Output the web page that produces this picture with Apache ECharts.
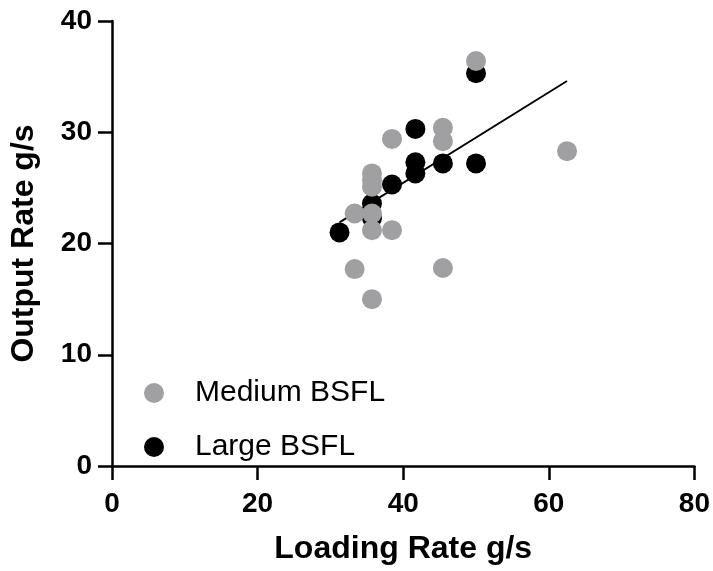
<!DOCTYPE html>
<html>
<head>
<meta charset="utf-8">
<script src="https://cdn.jsdelivr.net/npm/echarts@6/dist/echarts.min.js"></script>
<style>
  html, body { margin: 0; padding: 0; background: #fff; }
  #chart { width: 713px; height: 571px; }
</style>
</head>
<body>
<div id="chart"></div>
<script>
// loading rates (g/s) and output rates (g/s)
var mediumX = [50, 45.45, 45.45, 38.46, 62.5, 35.71, 35.71, 35.71, 33.33, 35.71, 35.71, 38.46, 33.33, 45.45, 35.71]
var mediumY = [36.4, 30.4, 29.2, 29.4, 28.3, 26.3, 25.7, 25.1, 22.7, 22.7, 21.2, 21.2, 17.7, 17.8, 15.0]

var largeX = [50, 41.67, 41.67, 41.67, 45.45, 50, 38.46, 35.71, 35.71, 31.25]
var largeY = [35.3, 30.3, 27.3, 26.3, 27.2, 27.2, 25.3, 23.6, 22.3, 21.0]

// fitted line ends
var fitX = [31.25, 62.5]
var fitY = [21.9, 34.6]

var xTicks = [0, 20, 40, 60, 80]
var yTicks = [0, 10, 20, 30, 40]

function pairs(xs, ys) {
    var out = []
    for (var i = 0; i < xs.length; i++) {
        out.push([xs[i], ys[i]])
    }
    return out
}

var font = "'Liberation Sans', Arial, sans-serif"
var myChart = echarts.init(document.getElementById('chart'))

var option = {
    animation: false,
    backgroundColor: '#fff',
    grid: {
        left: 109,
        right: 15,
        top: 21,
        bottom: 105
    },
    legend: {
        orient: 'vertical',
        left: 139,
        top: 373,
        itemWidth: 20,
        itemHeight: 20,
        itemGap: 24,
        data: [
            {name: 'Medium BSFL', icon: 'circle'},
            {name: 'Large BSFL', icon: 'circle'}
        ],
        textStyle: {
            fontFamily: font,
            fontSize: 30,
            color: '#000',
            padding: [0, 0, 0, 26]
        }
    },
    xAxis: {
        type: 'value',
        min: xTicks[0],
        max: xTicks[xTicks.length - 1],
        interval: 20,
        name: 'Loading Rate g/s',
        nameLocation: 'middle',
        nameGap: 67,
        nameTextStyle: {
            fontFamily: font,
            fontSize: 32,
            fontWeight: 'bold',
            color: '#000'
        },
        splitLine: {show: false},
        axisLine: {onZero: false, lineStyle: {color: '#000', width: 2.5}},
        axisTick: {length: 14, lineStyle: {color: '#000', width: 2.5}},
        axisLabel: {
            margin: 24,
            fontFamily: font,
            fontSize: 28,
            fontWeight: 'bold',
            color: '#000'
        }
    },
    yAxis: {
        type: 'value',
        min: yTicks[0],
        max: yTicks[yTicks.length - 1],
        interval: 10,
        name: 'Output Rate g/s',
        nameLocation: 'middle',
        nameGap: 72,
        nameTextStyle: {
            fontFamily: font,
            fontSize: 32,
            fontWeight: 'bold',
            color: '#000'
        },
        splitLine: {show: false},
        axisLine: {show: true, onZero: false, lineStyle: {color: '#000', width: 2.5}},
        axisTick: {show: true, length: 14, lineStyle: {color: '#000', width: 2.5}},
        axisLabel: {
            margin: 20,
            fontFamily: font,
            fontSize: 28,
            fontWeight: 'bold',
            color: '#000'
        }
    },
    series: [
        {
            name: 'fit',
            type: 'line',
            data: pairs(fitX, fitY),
            symbol: 'none',
            lineStyle: {color: '#000', width: 1.8},
            z: 1
        },
        {
            name: 'Large BSFL',
            type: 'scatter',
            data: pairs(largeX, largeY),
            symbol: 'circle',
            symbolSize: 20,
            itemStyle: {color: '#000', opacity: 1},
            z: 2
        },
        {
            name: 'Medium BSFL',
            type: 'scatter',
            data: pairs(mediumX, mediumY),
            symbol: 'circle',
            symbolSize: 20,
            itemStyle: {color: '#a0a0a2', opacity: 1},
            z: 3
        }
    ]
}

myChart.setOption(option)
</script>
</body>
</html>
